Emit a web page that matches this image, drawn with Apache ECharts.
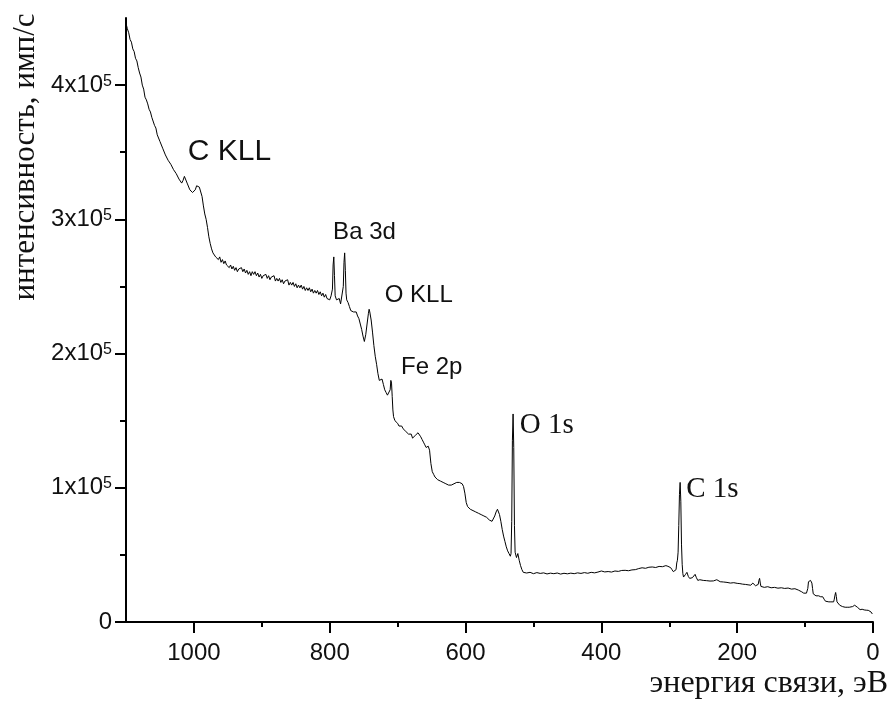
<!DOCTYPE html>
<html>
<head>
<meta charset="utf-8">
<script src="https://cdn.jsdelivr.net/npm/echarts@6/dist/echarts.min.js"></script>
<style>
  html, body { margin: 0; padding: 0; background: #fff; }
  #chart { width: 893px; height: 708px; }
</style>
</head>
<body>
<div id="chart"></div>
<script>
// энергия связи, эВ
var energy = [
  1100, 1098, 1096, 1094, 1092, 1090, 1088, 1086, 1084, 1082, 1080, 1078, 1076, 1074, 1072, 1070,
  1068, 1066, 1064, 1062, 1060, 1058, 1056, 1054, 1052, 1050, 1048, 1046, 1044, 1042, 1040, 1038,
  1036, 1034, 1032, 1030, 1028, 1026, 1024, 1022, 1020, 1018, 1016, 1014, 1012, 1010, 1008, 1006,
  1004, 1002, 1000, 998, 996, 994, 992, 990, 988, 986, 984, 982, 980, 978, 976, 974, 972, 970, 968, 966,
  964, 962, 960, 958, 956, 954, 952, 950, 948, 946, 944, 942, 940, 938, 936, 934, 932, 930,
  928, 926, 924, 922, 920, 918, 916, 914, 912, 910, 908, 906, 904, 902, 900, 898, 896, 894,
  892, 890, 888, 886, 884, 882, 880, 878, 876, 874, 872, 870, 868, 866, 864, 862, 860, 858,
  856, 854, 852, 850, 848, 846, 844, 842, 840, 838, 836, 834, 832, 830, 828, 826, 824, 822,
  820, 818, 816, 814, 812, 810, 808, 806, 804, 802, 800, 798, 796, 795, 794, 793, 792, 790,
  788, 786, 784, 782, 780, 779, 778, 777, 776, 775, 773, 771, 769, 767, 765, 763, 761, 759,
  757, 755, 753, 751, 749, 747, 745, 743, 742, 741, 739, 737, 735, 733, 731, 729, 727, 725,
  723, 721, 719, 717, 715, 713, 711, 710, 709, 708, 707, 706, 704, 702, 700, 698, 696, 694,
  692, 690, 688, 686, 684, 682, 680, 678, 676, 674, 672, 670, 668, 666, 664, 662, 660, 658,
  656, 655, 653, 651, 649, 647, 645, 643, 641, 639, 637, 635, 633, 631, 629, 627, 625, 623,
  621, 619, 617, 615, 613, 611, 609, 607, 605, 603, 601, 599, 597, 595, 593, 591, 589, 587,
  585, 583, 581, 579, 577, 575, 573, 571, 569, 567, 565, 563, 561, 559, 557, 555, 553, 552,
  550, 548, 546, 544, 542, 540, 538, 536, 534, 533, 532, 531, 530, 529, 528, 527, 525, 523,
  522, 521, 519, 517, 515, 513, 510, 505, 500, 495, 490, 485, 480, 475, 470, 465, 460, 455,
  450, 445, 440, 435, 430, 425, 420, 415, 410, 405, 400, 398, 395, 390, 385, 380, 375, 370,
  365, 360, 355, 350, 345, 340, 335, 330, 325, 320, 315, 310, 305, 302, 300, 298, 296, 294,
  292, 290, 289, 288, 287, 286, 285, 284, 283, 282, 281, 280, 279, 278, 276, 274, 272, 270,
  268, 266, 264, 262, 260, 258, 255, 250, 245, 240, 235, 230, 228, 225, 220, 215, 210, 205,
  200, 196, 192, 188, 184, 180, 177, 176, 175, 173, 171, 169, 168, 167, 166, 165, 163, 160,
  155, 150, 145, 140, 135, 130, 125, 120, 115, 110, 105, 102, 100, 98, 96, 95, 94, 93,
  92, 90, 89, 88, 86, 84, 80, 77, 74, 72, 70, 68, 65, 62, 60, 58, 57, 56,
  55, 54, 53, 51, 49, 47, 45, 43, 41, 38, 35, 33, 30, 28, 27, 25, 23, 21,
  19, 16, 13, 10, 7, 5, 3, 1
];

// интенсивность, тыс. имп/с
var counts = [
  446, 442, 439, 434, 432, 427, 425, 420, 418, 413, 409, 406, 400, 397, 391, 389,
  386, 382, 380, 376, 375, 370, 368, 363, 362, 358, 357, 353, 352, 348, 347, 344,
  344, 341, 340, 337, 337, 334, 333, 330, 329, 327, 329, 332, 333, 327, 326, 322,
  323, 320, 319, 322, 325, 326, 324, 323, 317, 310, 304, 300, 294, 287, 282, 278, 275, 274, 272, 271,
  270, 272, 268, 270, 267, 269, 266, 267, 264, 266, 263, 265, 262, 264, 261, 263, 262, 264,
  261, 263, 260, 262, 259, 261, 258, 261, 259, 261, 258, 260, 257, 259, 256, 258, 257, 259,
  256, 258, 255, 257, 256, 258, 254, 256, 254, 256, 253, 255, 252, 254, 253, 255, 251, 253,
  251, 253, 250, 252, 249, 251, 249, 251, 248, 250, 247, 249, 247, 249, 246, 248, 245, 247,
  245, 247, 244, 246, 243, 245, 242, 244, 241, 242, 240, 243, 248, 266, 272, 258, 243, 240,
  239, 241, 237, 238, 250, 268, 275, 262, 245, 240, 238, 235, 232, 233, 231, 230, 231, 228,
  226, 222, 218, 213, 209, 214, 222, 230, 233, 231, 225, 216, 206, 198, 192, 185, 180, 179,
  181, 177, 173, 171, 169, 168, 173, 180, 178, 168, 158, 153, 150, 149, 148, 146, 145, 146,
  144, 143, 142, 142, 140, 139, 140, 137, 137, 139, 139, 141, 141, 138, 136, 134, 132, 130,
  129, 131, 128, 118, 112, 110, 108, 107, 106, 105, 105, 104, 104, 103, 103, 102, 102, 101,
  102, 102, 103, 103, 104, 104, 104, 104, 103, 101, 96, 89, 86, 85, 84, 84, 83, 83,
  82, 81, 81, 80, 80, 80, 79, 79, 78, 78, 76, 75, 75, 76, 79, 82, 84, 83,
  80, 75, 69, 64, 60, 56, 53, 51, 49, 51, 75, 135, 155, 130, 72, 52, 48, 51,
  50, 46, 42, 39, 37, 37, 36.5, 37, 36, 36.8, 36.2, 36.6, 35.8, 36.4, 36, 36.5, 35.7, 36.3,
  35.9, 36.4, 36, 36.6, 36.2, 36.8, 36.3, 37, 36.6, 37.2, 38, 37, 37.3, 37.6, 37.2, 38, 37.7, 38.4,
  38.5, 38.2, 38.8, 39, 39.8, 40.4, 40, 40.8, 41, 40.6, 41.4, 41.2, 42, 41.5, 41, 40.5, 39, 37.5,
  37, 39, 44, 46, 52, 72, 95, 104, 90, 58, 43, 36, 33.5, 34, 35.5, 37, 34, 32.5,
  32, 33, 34, 35.5, 33, 31, 31.5, 31, 30.8, 30.5, 30.6, 31.5, 31, 30, 29.8, 29.5, 29, 29.3,
  28.8, 28.6, 28.2, 28, 27.7, 27.4, 29, 30, 28, 27, 26.5, 28, 31, 32.5, 29, 26.5, 26, 25.8,
  26.3, 25.5, 25.8, 25.2, 25.5, 25, 25.3, 24.5, 24.8, 23.8, 22.5, 21.5, 21, 21.5, 25, 30, 31, 29,
  31, 29, 25, 21, 20, 19.5, 19.5, 18.8, 18.8, 17, 15.5, 15, 15, 15, 15.2, 15, 17, 20,
  22, 19, 15, 13.7, 12.5, 12, 11.5, 11, 11, 11, 11, 11.3, 11.5, 12, 12.5, 11.8, 11, 10,
  9.2, 9.5, 9, 8.8, 8.7, 8, 7.5, 6
];

var xTicks = [0, 200, 400, 600, 800, 1000];
var yTicks = [0, 100, 200, 300, 400];

var peakNames = ['C KLL', 'Ba 3d', 'O KLL', 'Fe 2p', 'O 1s', 'C 1s'];
var peakEnergy = [1009, 795, 719, 695, 520, 275];
var peakCounts = [350, 290, 243.5, 190, 146.6, 99];

var sans = '"Liberation Sans", Arial, sans-serif';
var serif = '"Liberation Serif", "Times New Roman", serif';

var lineData = [];
for (var i = 0; i < energy.length; i++) {
  lineData.push([energy[i], counts[i]]);
}

var markData = [];
for (var j = 0; j < peakNames.length; j++) {
  var isSerif = peakNames[j] === 'O 1s' || peakNames[j] === 'C 1s';
  var size = 24;
  if (peakNames[j] === 'C KLL') size = 30;
  if (isSerif) size = 29;
  markData.push({
    coord: [peakEnergy[j], peakCounts[j]],
    value: peakNames[j],
    label: {
      fontFamily: isSerif ? serif : sans,
      fontSize: size
    }
  });
}

var myChart = echarts.init(document.getElementById('chart'));
myChart.setOption({
  animation: false,
  backgroundColor: '#fff',
  grid: { left: 126, right: 20, top: 18, bottom: 86 },
  xAxis: {
    type: 'value',
    min: 0,
    max: 1100,
    inverse: true,
    splitLine: { show: false },
    axisLine: { show: true, onZero: false, lineStyle: { color: '#000', width: 2 } },
    axisTick: { show: true, customValues: xTicks, length: 11, lineStyle: { color: '#000', width: 2 } },
    minorTick: { show: true, splitNumber: 2, length: 5, lineStyle: { color: '#000', width: 2 } },
    axisLabel: {
      customValues: xTicks,
      margin: 19,
      color: '#111',
      fontSize: 24,
      fontFamily: sans,
      formatter: function (v) { return String(v); }
    }
  },
  yAxis: {
    type: 'value',
    min: 0,
    max: 450,
    splitLine: { show: false },
    axisLine: { show: true, onZero: false, lineStyle: { color: '#000', width: 2 } },
    axisTick: { show: true, customValues: yTicks, length: 11, lineStyle: { color: '#000', width: 2 } },
    minorTick: { show: true, splitNumber: 2, length: 6, lineStyle: { color: '#000', width: 2 } },
    axisLabel: {
      customValues: yTicks,
      margin: 14,
      color: '#111',
      fontSize: 24,
      fontFamily: sans,
      formatter: function (v) {
        return v === 0 ? '0' : (v / 100) + 'x10{s|5}';
      },
      rich: {
        s: { fontSize: 16, fontFamily: sans, color: '#111', verticalAlign: 'top' }
      }
    }
  },
  graphic: [
    {
      type: 'text',
      x: 26, y: 157,
      rotation: Math.PI / 2,
      style: {
        text: 'интенсивность, имп/с',
        font: '31px ' + serif,
        fill: '#111',
        align: 'center',
        verticalAlign: 'middle'
      }
    },
    {
      type: 'text',
      x: 888, y: 684,
      style: {
        text: 'энергия связи, эВ',
        font: '32px ' + serif,
        fill: '#111',
        align: 'right',
        verticalAlign: 'middle'
      }
    }
  ],
  series: [
    {
      type: 'line',
      data: lineData,
      showSymbol: false,
      lineStyle: { color: '#000', width: 1 },
      markPoint: {
        symbol: 'circle',
        symbolSize: 0,
        silent: true,
        label: { show: true, position: 'right', distance: 0, color: '#111', formatter: '{c}' },
        data: markData
      }
    }
  ]
});
</script>
</body>
</html>
